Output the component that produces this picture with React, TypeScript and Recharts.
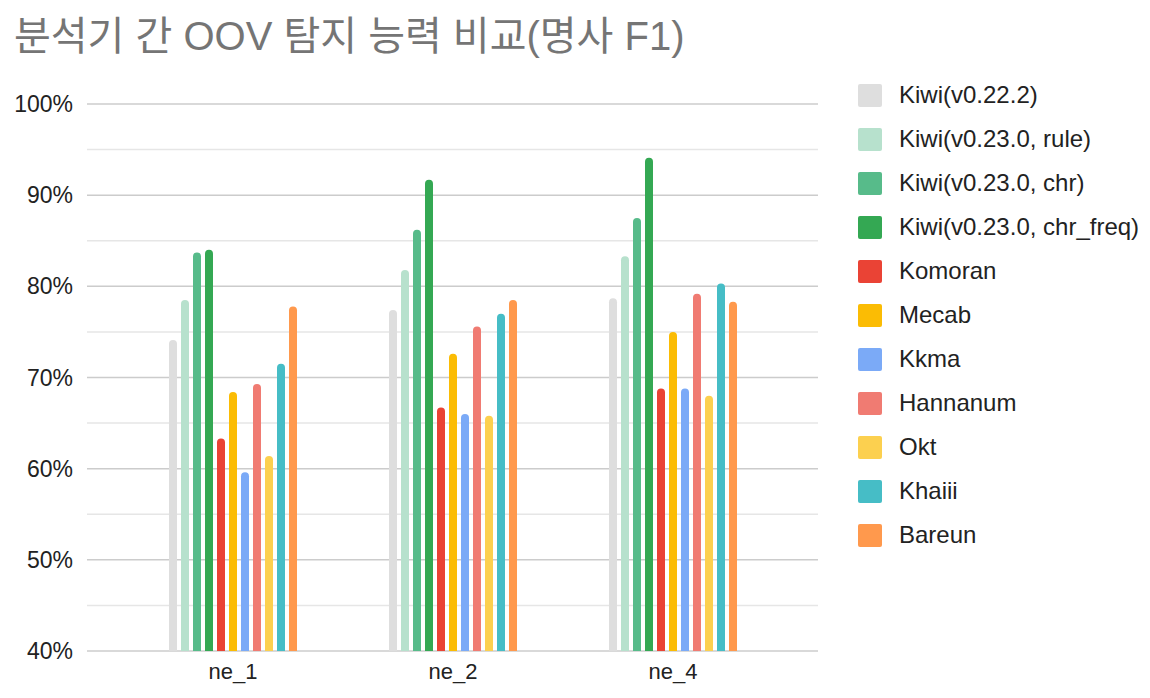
import React from "react"
import { Bar, BarChart, CartesianGrid, Legend, XAxis, YAxis } from "recharts"

const categories = ["ne_1", "ne_2", "ne_4"]

const seriesNames = [
  "Kiwi(v0.22.2)",
  "Kiwi(v0.23.0, rule)",
  "Kiwi(v0.23.0, chr)",
  "Kiwi(v0.23.0, chr_freq)",
  "Komoran",
  "Mecab",
  "Kkma",
  "Hannanum",
  "Okt",
  "Khaiii",
  "Bareun",
]

const seriesColors = [
  "#dedede",
  "#b7e1cd",
  "#57bb8a",
  "#34a853",
  "#ea4335",
  "#fbbc04",
  "#7baaf7",
  "#f07b72",
  "#fcd04f",
  "#46bdc6",
  "#ff994d",
]

// one row per category, one value per series (percent)
const values = [
  [74.1, 78.5, 83.7, 84.0, 63.3, 68.4, 59.6, 69.3, 61.4, 71.5, 77.8],
  [77.4, 81.8, 86.2, 91.7, 66.7, 72.6, 66.0, 75.6, 65.8, 77.0, 78.5],
  [78.7, 83.3, 87.5, 94.1, 68.8, 75.0, 68.8, 79.2, 68.0, 80.3, 78.3],
]

const yTicks = [40, 50, 60, 70, 80, 90, 100]
const yMinor = [45, 55, 65, 75, 85, 95]

const data = categories.map((name, i) => {
  const row: Record<string, number | string> = { name }
  seriesNames.forEach((s, j) => {
    row["s" + j] = values[i][j]
  })
  return row
})

const font = "'Liberation Sans', Arial, 'Noto Sans CJK KR', sans-serif"

// keep the series order instead of recharts' sorted payload
function LegendList() {
  return (
    <div style={{ fontFamily: font }}>
      {seriesNames.map((s, j) => (
        <div key={s} style={{ display: "flex", alignItems: "center", height: 44 }}>
          <div
            style={{
              width: 24,
              height: 23,
              borderRadius: 2,
              background: seriesColors[j],
              marginRight: 17,
            }}
          />
          <span style={{ fontSize: 24, color: "#222" }}>{s}</span>
        </div>
      ))}
    </div>
  )
}

export default function App() {
  return (
    <div style={{ position: "relative", width: 1150, height: 698, background: "#fff" }}>
      <style>{`body{margin:0}`}</style>
      <div
        style={{
          position: "absolute",
          left: 14,
          top: 16,
          fontFamily: font,
          fontSize: 40,
          lineHeight: 1,
          color: "#757575",
          whiteSpace: "nowrap",
        }}
      >
        분석기 간 OOV 탐지 능력 비교(명사 F1)
      </div>
      <BarChart
        width={1150}
        height={698}
        data={data}
        margin={{ top: 104, right: 332, bottom: 0, left: 0 }}
        barSize={8}
        barGap={4}
      >
        <CartesianGrid vertical={false} horizontalValues={yMinor} stroke="#e6e6e6" strokeWidth={1.5} />
        <CartesianGrid vertical={false} horizontalValues={yTicks} stroke="#cccccc" strokeWidth={1.5} />
        <XAxis
          dataKey="name"
          height={47}
          axisLine={false}
          tickLine={false}
          tickSize={0}
          tickMargin={12}
          padding={{ left: 36, right: 35 }}
          tick={{ fontSize: 22, fill: "#222", fontFamily: font }}
        />
        <YAxis
          width={87}
          domain={[40, 100]}
          ticks={yTicks}
          allowDataOverflow
          axisLine={false}
          tickLine={false}
          tickSize={0}
          tickMargin={14}
          tickFormatter={(v: number) => `${v}%`}
          tick={{ fontSize: 23, fill: "#222", fontFamily: font }}
        />
        <Legend
          layout="horizontal"
          verticalAlign="middle"
          align="center"
          content={<LegendList />}
          wrapperStyle={{ position: "absolute", left: 858, top: 73, width: 290 }}
        />
        {seriesNames.map((s, j) => (
          <Bar
            key={s}
            dataKey={"s" + j}
            name={s}
            fill={seriesColors[j]}
            radius={[4, 4, 0, 0]}
            isAnimationActive={false}
          />
        ))}
      </BarChart>
    </div>
  )
}
